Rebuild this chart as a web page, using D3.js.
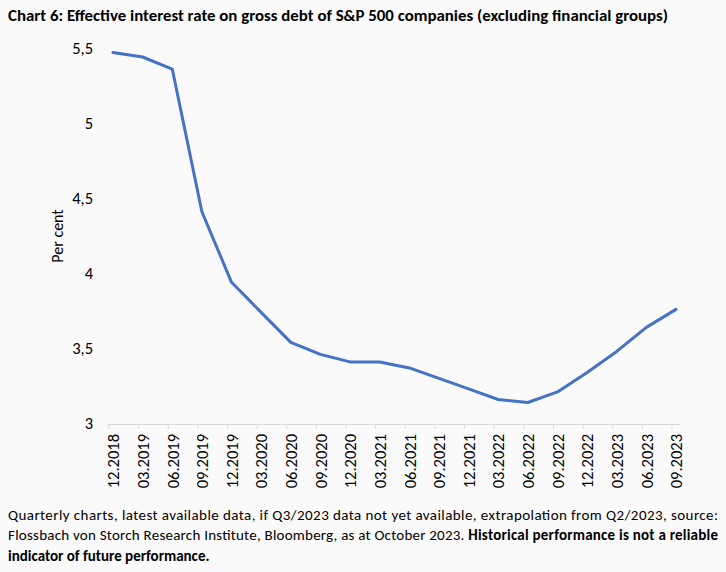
<!DOCTYPE html>
<html>
<head>
<meta charset="utf-8">
<script src="https://cdn.jsdelivr.net/npm/d3@7"></script>
<style>
    body { margin: 0; background: #fafafa; }
    svg { display: block; }
    text { font-family: Calibri, Carlito, "Open Sans", "Noto Sans", sans-serif; fill: #000; }
</style>
</head>
<body>
<div id="chart"></div>
<script>
// quarter-end labels
const quarters = ["12.2018", "03.2019", "06.2019", "09.2019", "12.2019", "03.2020", "06.2020",
    "09.2020", "12.2020", "03.2021", "06.2021", "09.2021", "12.2021", "03.2022", "06.2022",
    "09.2022", "12.2022", "03.2023", "06.2023", "09.2023"];

// effective interest rate, per cent
const rates = [5.47, 5.44, 5.36, 4.41, 3.94, 3.74, 3.54, 3.46, 3.41, 3.41, 3.37, 3.30,
    3.23, 3.16, 3.14, 3.21, 3.34, 3.48, 3.64, 3.76];

const yTicks = [3, 3.5, 4, 4.5, 5, 5.5];

const title = "Chart 6: Effective interest rate on gross debt of S&P 500 companies (excluding financial groups)";
const noteLine1 = "Quarterly charts, latest available data, if Q3/2023 data not yet available, extrapolation from Q2/2023, source:";
const noteLine2a = "Flossbach von Storch Research Institute, Bloomberg, as at October 2023. ";
const noteLine2b = "Historical performance is not a reliable";
const noteLine3 = "indicator of future performance.";

const W = 726, H = 572;
const font = "Calibri, Carlito, 'Open Sans', 'Noto Sans', sans-serif";

const svg = d3.select("#chart")
    .append("svg")
    .attr("width", W)
    .attr("height", H);

svg.append("rect")
    .attr("width", W)
    .attr("height", H)
    .attr("fill", "#fafafa");

// title
svg.append("text")
    .attr("x", 8)
    .attr("y", 21)
    .style("font-size", "15.5px")
    .style("font-weight", "bold")
    .attr("textLength", 660)
    .attr("lengthAdjust", "spacingAndGlyphs")
    .text(title);

// scales
const x = d3.scalePoint()
    .domain(quarters)
    .range([113, 676]);

const y = d3.scaleLinear()
    .domain([3, 5.5])
    .range([423.5, 48]);

// x axis
const xAxis = d3.axisBottom(x)
    .tickSize(5)
    .tickSizeOuter(0);

const gx = svg.append("g")
    .attr("transform", "translate(0,424)")
    .call(xAxis);

gx.select(".domain")
    .attr("d", "M108,0.5H680")
    .attr("stroke", "#d9d9d9");

gx.selectAll(".tick line")
    .attr("stroke", "#d9d9d9")
    .attr("x1", -4.5)
    .attr("x2", -4.5);

gx.selectAll(".tick text")
    .attr("transform", "rotate(-90)")
    .attr("x", -10)
    .attr("y", 0)
    .attr("dy", "0.35em")
    .attr("text-anchor", "end")
    .style("font-size", "16.5px")
    .style("font-family", font)
    .attr("fill", "#000");

// y axis (labels only)
const yAxis = d3.axisLeft(y)
    .tickValues(yTicks)
    .tickSize(0)
    .tickPadding(0)
    .tickFormat(d => String(d).replace(".", ","));

const gy = svg.append("g")
    .attr("transform", "translate(93,0)")
    .call(yAxis);

gy.select(".domain").remove();

gy.selectAll(".tick text")
    .style("font-size", "16.5px")
    .style("font-family", font)
    .attr("fill", "#000");

// y axis title
svg.append("text")
    .attr("transform", "translate(63,236) rotate(-90)")
    .attr("text-anchor", "middle")
    .style("font-size", "16px")
    .text("Per cent");

// line
const line = d3.line()
    .x((d, i) => x(quarters[i]))
    .y(d => y(d));

svg.append("path")
    .datum(rates)
    .attr("d", line)
    .attr("fill", "none")
    .attr("stroke", "#4472c4")
    .attr("stroke-width", 3)
    .attr("stroke-linejoin", "round")
    .attr("stroke-linecap", "round");

// footnote
svg.append("text")
    .attr("x", 8)
    .attr("y", 520)
    .style("font-size", "15px")
    .attr("textLength", 710)
    .attr("lengthAdjust", "spacing")
    .text(noteLine1);

const l2 = svg.append("text")
    .attr("x", 8)
    .attr("y", 540)
    .style("font-size", "15px")
    .attr("textLength", 710)
    .attr("lengthAdjust", "spacing");
l2.append("tspan").text(noteLine2a);
l2.append("tspan").style("font-weight", "bold").text(noteLine2b);

svg.append("text")
    .attr("x", 8)
    .attr("y", 561)
    .style("font-size", "15px")
    .style("font-weight", "bold")
    .text(noteLine3);
</script>
</body>
</html>
